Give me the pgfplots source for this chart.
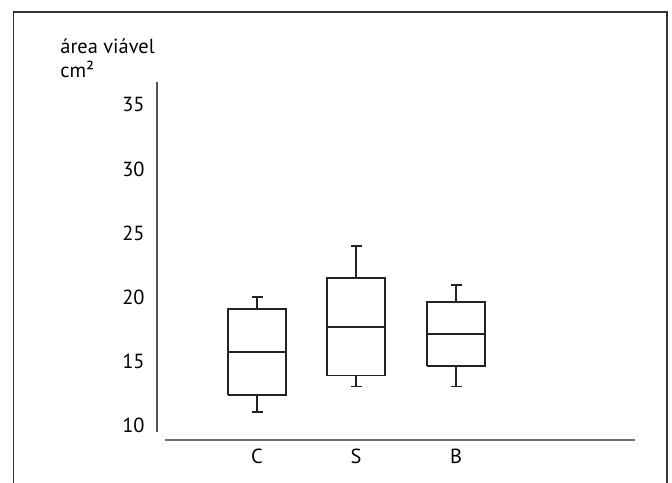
\documentclass[border=0pt]{standalone}
\usepackage{fontspec}
\setmainfont{PT Sans}
\usepackage{pgfplots}
\pgfplotsset{compat=1.18}
\definecolor{framec}{HTML}{333333}
\definecolor{yax}{HTML}{555555}
\definecolor{xax}{HTML}{6E6E6E}
\definecolor{boxc}{HTML}{222222}
\begin{document}
\fontsize{10.2}{12}\selectfont
\begin{tikzpicture}
\useasboundingbox (0,0) rectangle (336pt,-241pt);
\draw[framec, line width=0.8pt] (6.65pt,-245pt) -- (6.65pt,-5.85pt) -- (333.5pt,-5.85pt) -- (333.5pt,-245pt);
\node[anchor=base west, inner sep=0pt] at (30pt,-26.5pt) {área viável};
\node[anchor=base west, inner sep=0pt] at (30pt,-38.5pt) {cm²};
\begin{axis}[
  at={(78.5pt,-216pt)}, anchor=south west,
  x=50pt, y=6.4pt,
  xmin=0, xmax=4.78, ymin=9.45, ymax=36.8,
  axis lines*=left,
  x axis line style={draw=none},
  y axis line style={draw=yax, line width=1pt},
  ytick={10,15,20,25,30,35},
  xtick={1,1.99,2.99},
  xticklabels={C,S,B},
  major tick length=0pt,
  tick style={draw=none},
  /pgf/number format/assume math mode=true,
  tick label style={font=\fontsize{10.2}{12}\selectfont, inner sep=0pt},
  yticklabel style={anchor=east, xshift=-6pt},
  xticklabel style={anchor=base, yshift=-15.5pt},
  clip=false,
  unbounded coords=jump,
]
% C: lower whisker 11, Q1 12.35, median 15.7, Q3 19.05, upper whisker 20
\addplot[boxc, line width=0.8pt, mark=none] coordinates {(0.71,12.35) (1.29,12.35) (1.29,19.05) (0.71,19.05) (0.71,12.35) (1,nan)
  (0.71,15.7) (1.29,15.7) (1,nan)
  (1,19.05) (1,20) (1,nan) (0.945,20) (1.055,20) (1,nan)
  (1,12.35) (1,11) (1,nan) (0.945,11) (1.055,11)};
% S: lower whisker 13, Q1 13.85, median 17.65, Q3 21.5, upper whisker 24
\addplot[boxc, line width=0.8pt, mark=none] coordinates {(1.70,13.85) (2.28,13.85) (2.28,21.5) (1.70,21.5) (1.70,13.85) (2,nan)
  (1.70,17.65) (2.28,17.65) (2,nan)
  (1.99,21.5) (1.99,24) (2,nan) (1.935,24) (2.045,24) (2,nan)
  (1.99,13.85) (1.99,13) (2,nan) (1.935,13) (2.045,13)};
% B: lower whisker 13, Q1 14.6, median 17.1, Q3 19.6, upper whisker 20.95
\addplot[boxc, line width=0.8pt, mark=none] coordinates {(2.70,14.6) (3.28,14.6) (3.28,19.6) (2.70,19.6) (2.70,14.6) (3,nan)
  (2.70,17.1) (3.28,17.1) (3,nan)
  (2.99,19.6) (2.99,20.95) (3,nan) (2.935,20.95) (3.045,20.95) (3,nan)
  (2.99,14.6) (2.99,13) (3,nan) (2.935,13) (3.045,13)};
\draw[xax, line width=1pt] (axis cs:0.08,8.79) -- (axis cs:4.78,8.79);
\end{axis}
\end{tikzpicture}
\end{document}
